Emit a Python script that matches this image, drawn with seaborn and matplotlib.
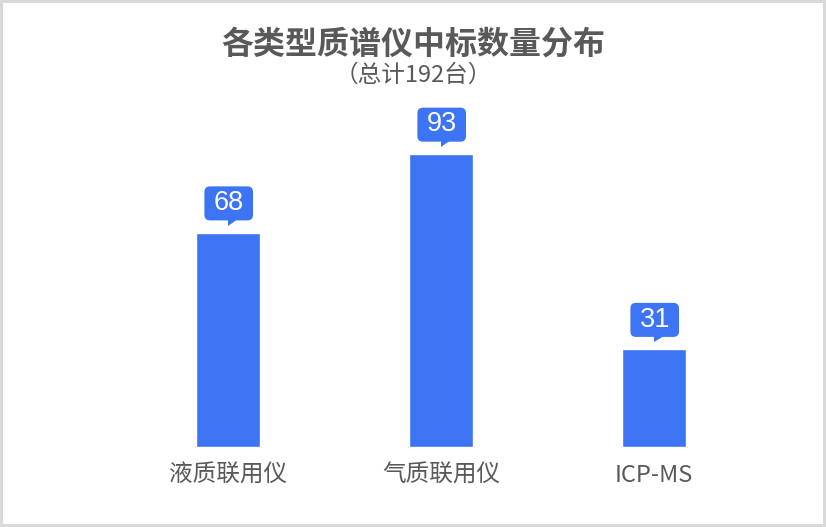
import pandas as pd
import seaborn as sns
import matplotlib.pyplot as plt
import matplotlib.transforms as mtransforms
from matplotlib.patches import Polygon, FancyBboxPatch

categories = ["液质联用仪", "气质联用仪", "ICP-MS"]
counts = [68, 93, 31]
title = "各类型质谱仪中标数量分布"
subtitle = "（总计192台）"

bar_color = "#3d74f3"
text_color = "#595959"

sns.set_theme(style="white")
plt.rcParams["font.family"] = ["Noto Sans CJK SC", "DejaVu Sans"]

df = pd.DataFrame({"type": categories, "count": counts})

fig = plt.figure(figsize=(8.26, 5.27), dpi=100)
fig.patch.set_edgecolor("#d9d9d9")
fig.patch.set_linewidth(3)
ax = fig.add_axes([0.1471, 0.1518, 0.7736, 0.6584])

sns.barplot(data=df, x="type", y="count", color=bar_color, width=0.3,
            saturation=1, ax=ax)

ax.set_xlim(-0.5, 2.5)
ax.set_ylim(0, 110.2)
for s in ax.spines.values():
    s.set_visible(False)
ax.set_yticks([])
ax.set_xlabel("")
ax.set_ylabel("")
ax.tick_params(axis="x", length=0, pad=12, labelsize=17, labelcolor=text_color)

# callout labels: rounded box + small tail, sized in points above each bar top
pts = mtransforms.Affine2D().scale(fig.dpi / 72)
for i, v in enumerate(counts):
    anchor = pts + mtransforms.ScaledTranslation(i, v, ax.transData)
    box = FancyBboxPatch((-17, 9), 35, 24.5,
                         boxstyle="round,pad=0,rounding_size=4",
                         fc=bar_color, ec="none", transform=anchor)
    ax.add_patch(box)
    tail = Polygon([(0, 5), (0, 10), (7.5, 10)], closed=True, fc=bar_color,
                   ec="none", transform=anchor)
    ax.add_patch(tail)
    ax.annotate(str(v), xy=(i, v), xytext=(0.7, 21.4), textcoords="offset points",
                ha="center", va="center", fontsize=19.5, color="white",
                family=["Liberation Sans", "DejaVu Sans"])

fig.text(0.5, 0.9146, title, ha="center", va="center", fontsize=23,
         fontweight="bold", color=text_color)
fig.text(0.5, 0.858, subtitle, ha="center", va="center", fontsize=17,
         color=text_color)

fig.savefig("out.png", dpi=100)
